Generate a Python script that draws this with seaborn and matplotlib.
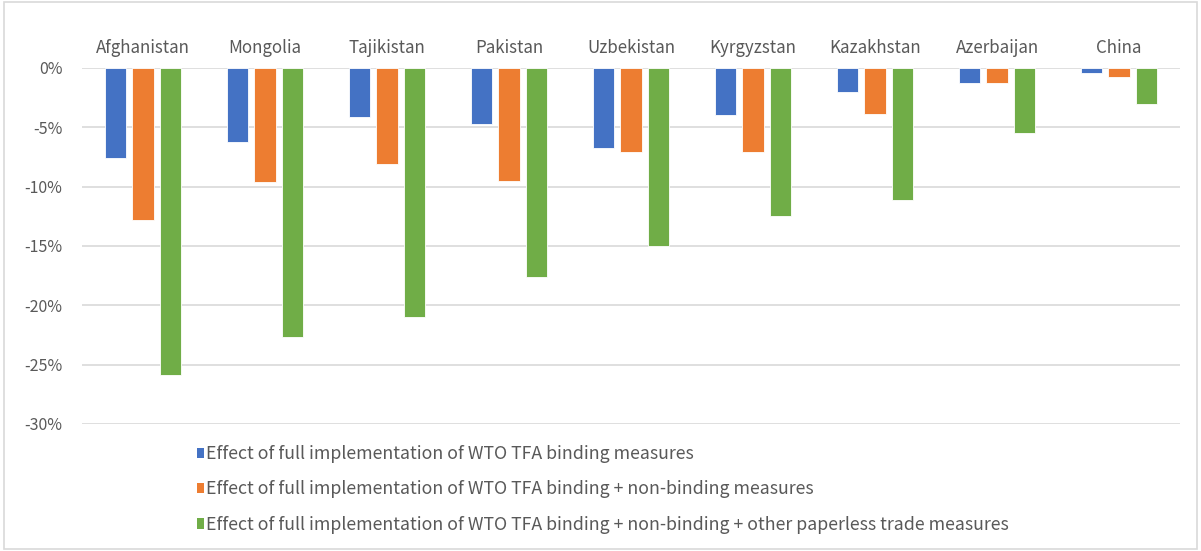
import pandas as pd
import matplotlib.pyplot as plt
import seaborn as sns
from matplotlib.patches import Patch, Rectangle
from matplotlib.ticker import FuncFormatter

# Data (% change)
countries = ['Afghanistan', 'Mongolia', 'Tajikistan', 'Pakistan', 'Uzbekistan',
             'Kyrgyzstan', 'Kazakhstan', 'Azerbaijan', 'China']
binding = [-7.6, -6.2, -4.1, -4.7, -6.7, -4.0, -2.0, -1.3, -0.4]
binding_nonbinding = [-12.8, -9.6, -8.1, -9.5, -7.1, -7.05, -3.9, -1.3, -0.8]
all_measures = [-25.9, -22.7, -21.0, -17.6, -15.0, -12.5, -11.1, -5.5, -3.05]

series_names = [
    'Effect of full implementation of WTO TFA binding measures',
    'Effect of full implementation of WTO TFA binding + non-binding measures',
    'Effect of full implementation of WTO TFA binding + non-binding + other paperless trade measures',
]
colors = ['#4472C4', '#ED7D31', '#70AD47']

df = pd.DataFrame({
    'country': countries * 3,
    'value': binding + binding_nonbinding + all_measures,
    'series': [series_names[0]] * 9 + [series_names[1]] * 9 + [series_names[2]] * 9,
})

sns.set_theme(style="white")
plt.rcParams['font.family'] = ['Noto Sans CJK SC', 'DejaVu Sans']
text_color = '#595959'
grid_color = '#d9d9d9'

fig = plt.figure(figsize=(12.01, 5.51), dpi=100)
ax = fig.add_axes([82 / 1201, 1 - 424 / 551, (1180 - 82) / 1201, (424 - 68) / 551])

sns.barplot(data=df, x='country', y='value', hue='series', palette=colors, saturation=1,
            width=0.67, gap=0.22, ax=ax, legend=False, edgecolor='white', linewidth=0.6)

ax.set_ylim(-30, 0)
ax.set_xlim(-0.5, len(countries) - 0.5)
ax.set_yticks(range(-30, 1, 5))
ax.yaxis.set_major_formatter(FuncFormatter(lambda v, p: f'{int(v)}%'))
ax.grid(axis='y', color=grid_color, linewidth=1.2)
ax.set_axisbelow(True)
for s in ax.spines.values():
    s.set_visible(False)
ax.set_xlabel('')
ax.set_ylabel('')
ax.xaxis.tick_top()
ax.tick_params(axis='x', length=0, pad=8, labelsize=12.2, labelcolor=text_color)
ax.tick_params(axis='y', length=0, pad=14, labelsize=11.5, labelcolor=text_color)

# legend below the plot
handles = [Patch(facecolor=c, edgecolor='none') for c in colors]
fig.legend(handles, series_names, loc='upper left', bbox_to_anchor=(181 / 1201, 1 - 429 / 551),
           frameon=False, handlelength=0.4, handleheight=0.5, handletextpad=0.1,
           labelspacing=0.98, fontsize=12.8, labelcolor=text_color)

# outer border
fig.patches.append(Rectangle((0.003, 0.003), 0.994, 0.994, transform=fig.transFigure,
                             fill=False, edgecolor=grid_color, linewidth=1.2))

fig.savefig('out.png', dpi=100)
